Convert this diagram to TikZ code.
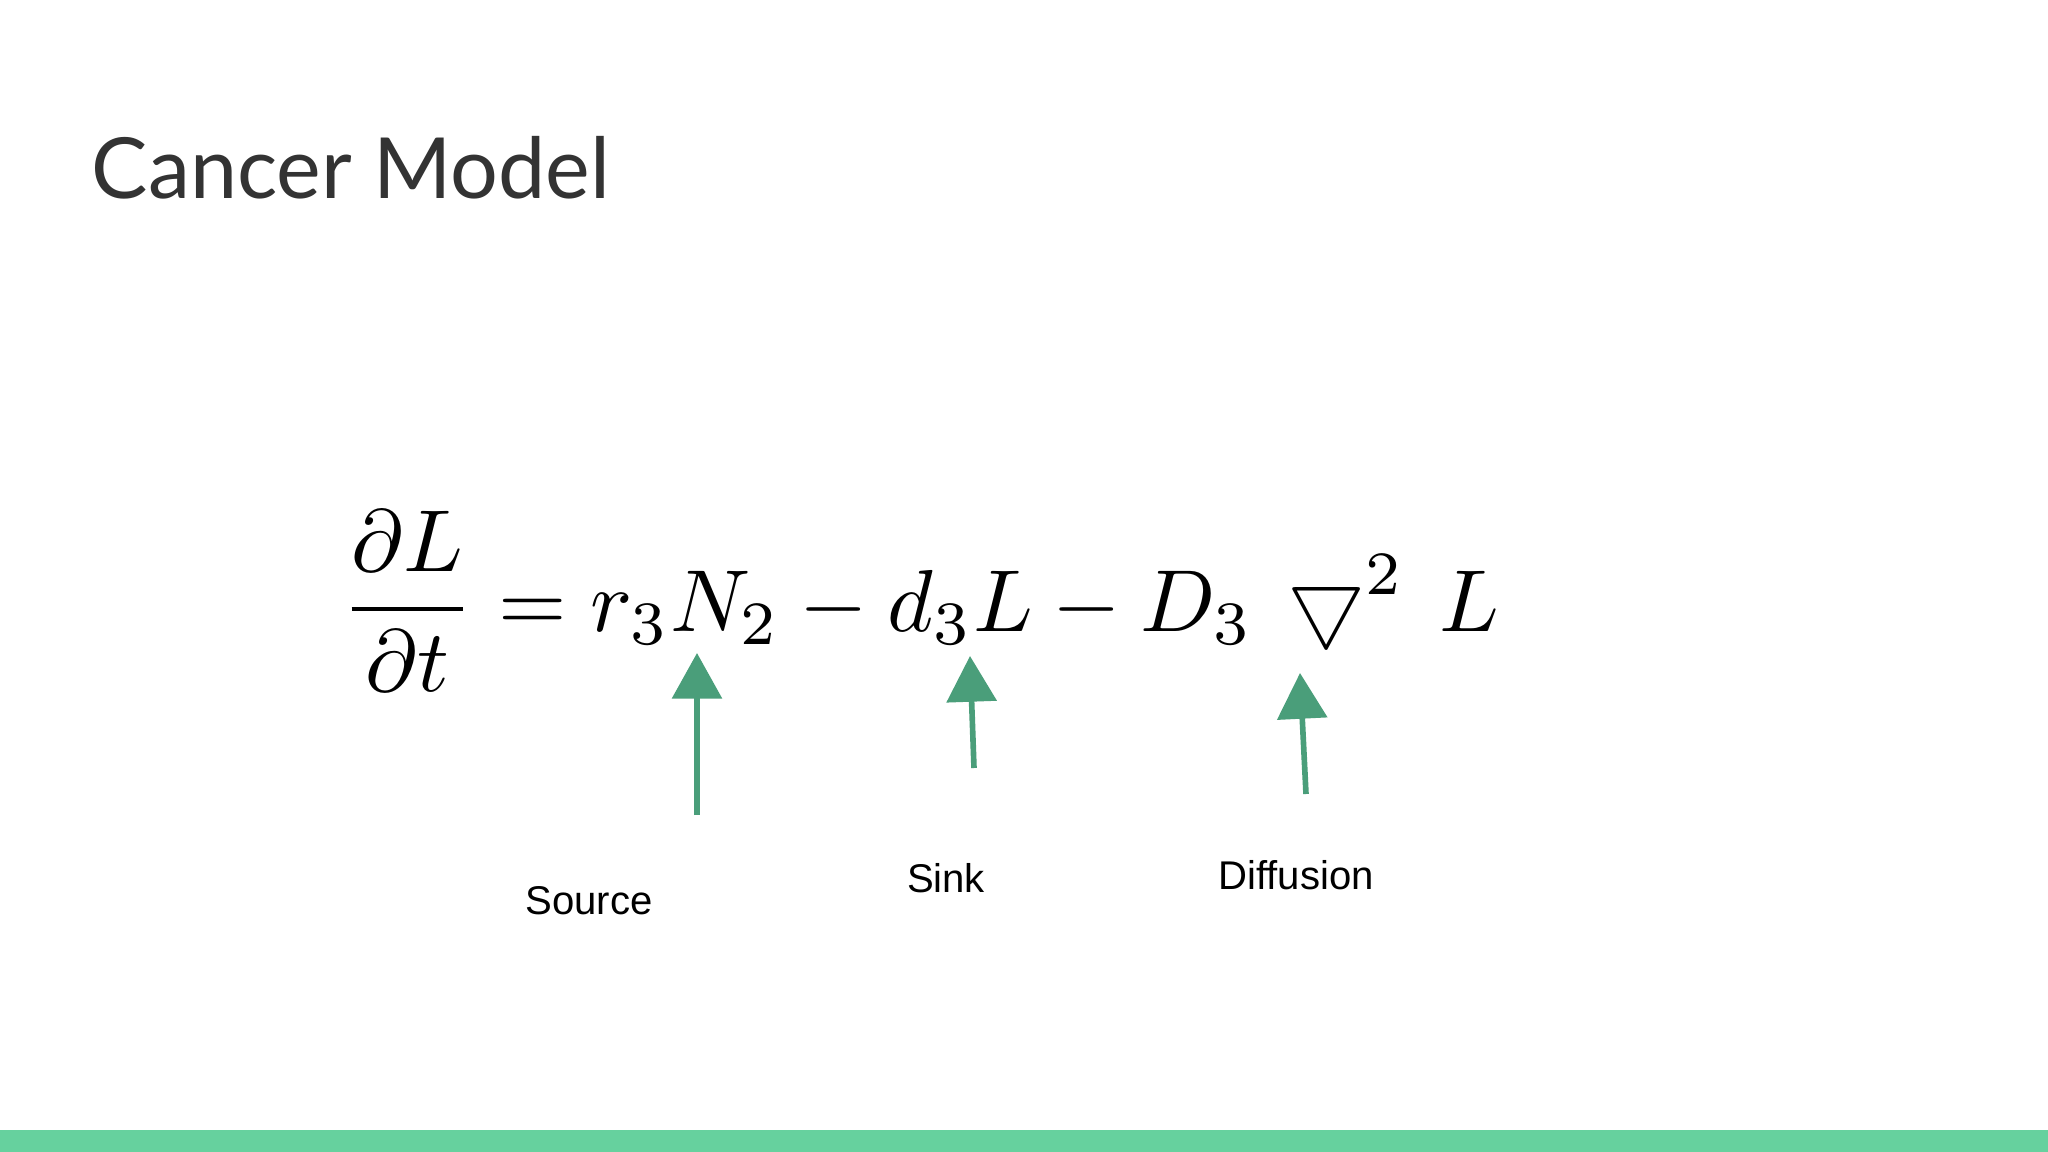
\documentclass[tikz,border=0pt]{standalone}
\usepackage{fontspec}
\setmainfont{Liberation Sans}
\newfontfamily\titlefont{Lato}
\usepackage{amsmath,amssymb}
\usepackage{graphicx}
\usetikzlibrary{arrows.meta}
\definecolor{arrgreen}{HTML}{4A9E7A}
\definecolor{bargreen}{HTML}{66D19E}
\definecolor{titlegray}{HTML}{333333}
\tikzset{lbl/.style={font=\fontsize{11.4pt}{13pt}\selectfont, text=black, inner sep=0},
  pointer/.style={draw=arrgreen, line width=1.6pt, -{Triangle[width=14pt,length=13pt]}}}
\begin{document}
\begin{tikzpicture}[x=0.01cm,y=-0.01cm]
\useasboundingbox (0,0) rectangle (2048,1152);
\fill[white] (0,0) rectangle (2048,1152);
\fill[bargreen] (0,1130) rectangle (2048,1152);
\node[anchor=west, inner sep=0, text=titlegray, font=\titlefont\fontsize{24pt}{28pt}\selectfont] (title) at (91,168) {Cancer Model};
\node[anchor=center, inner sep=0] (eq) at (920,601) {\resizebox{11.57cm}{!}{$\displaystyle \frac{\partial L}{\partial t} = r_3 N_2 - d_3 L - D_3\,\bigtriangledown^2\,L$}};
\coordinate (s0) at (697,815); \coordinate (s1) at (697,653);
\coordinate (k0) at (974,768); \coordinate (k1) at (970,656);
\coordinate (d0) at (1306,794); \coordinate (d1) at (1300,673);
\draw[pointer] (s0) -- (s1);
\draw[pointer] (k0) -- (k1);
\draw[pointer] (d0) -- (d1);
\node[lbl] (source) at (589,901) {Source};
\node[lbl] (sink) at (946,878) {Sink};
\node[lbl] (diff) at (1296,875) {Diffusion};
\end{tikzpicture}
\end{document}
